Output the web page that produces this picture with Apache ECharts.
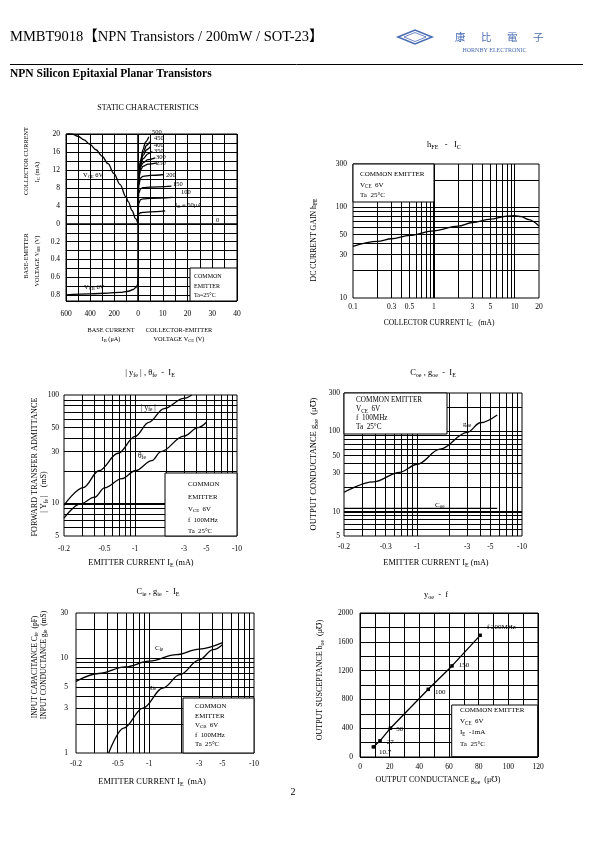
<!DOCTYPE html>
<html><head><meta charset="utf-8">
<script src="https://cdn.jsdelivr.net/npm/echarts@6/dist/echarts.min.js"></script>
<style>html,body{margin:0;padding:0;background:#fff}#c{width:595px;height:842px}</style>
</head><body><div id="c"></div>
<script>
// ================= DATA =================
// Static characteristics, upper-left: I_C (mA) vs I_B (uA) at V_CE = 6 V
const icIbIB = [0, 20, 50, 80, 100, 150, 200, 250, 300, 350, 400, 450, 500, 550, 600];
const icIbIC = [0, 1.2, 3.0, 4.9, 6.0, 8.8, 11.2, 13.4, 15.1, 16.5, 17.7, 18.7, 19.5, 20.0, 20.3];
// Static characteristics, upper-right: I_C (mA) vs V_CE (V), one curve per I_B (uA)
const famIB = [50, 100, 150, 200, 250, 300, 350, 400, 450, 500];
const famVCE = [
  [0, 0.1, 0.3, 1, 2, 5, 11],
  [0, 0.1, 0.3, 1, 2, 5, 14],
  [0, 0.1, 0.3, 1, 2, 5, 13.5],
  [0, 0.1, 0.3, 1, 2, 5, 10.5],
  [0, 0.1, 0.3, 1, 2, 4, 7.8],
  [0, 0.1, 0.3, 1, 2, 4, 7],
  [0, 0.1, 0.3, 1, 2, 4, 5.8],
  [0, 0.1, 0.3, 1, 2, 3.5, 5],
  [0, 0.1, 0.3, 1, 2, 3.5, 4.8],
  [0, 0.1, 0.3, 1, 2, 3, 4.4]
];
const famIC = [
  [0, 1.5, 2.2, 2.5, 2.6, 2.7, 2.9],
  [0, 3.0, 4.6, 5.4, 5.6, 5.7, 5.9],
  [0, 4.5, 6.8, 7.8, 8.1, 8.2, 8.4],
  [0, 6.0, 8.5, 10.2, 10.6, 10.8, 11.0],
  [0, 7.0, 9.8, 12.0, 12.8, 13.3, 13.6],
  [0, 7.5, 10.2, 12.6, 13.6, 14.3, 14.7],
  [0, 7.8, 10.5, 13.0, 14.5, 15.6, 16.1],
  [0, 8.0, 10.8, 13.5, 15.2, 16.5, 17.2],
  [0, 8.0, 11.0, 13.8, 15.8, 17.5, 18.3],
  [0, 8.0, 11.0, 14.0, 16.5, 18.2, 19.4]
];
// Static characteristics, lower-left: V_BE (V) vs I_B (uA)
const vbeIB = [0, 1, 3, 8, 20, 40, 80, 150, 250, 400, 600];
const vbeV  = [0.59, 0.64, 0.68, 0.70, 0.72, 0.74, 0.76, 0.772, 0.78, 0.79, 0.80];

// hFE - IC
const hfeIC  = [0.1, 0.2, 0.3, 0.5, 1, 2, 3, 5, 8, 10, 12, 15, 20];
const hfeVal = [37, 42, 45, 49, 55, 62, 68, 74, 80, 81, 79, 73, 62];
const hfeXTicks = [0.1, 0.3, 0.5, 1, 3, 5, 10, 20];
const hfeXText  = ['0.1', '0.3', '0.5', '1', '3', '5', '10', '20'];
const hfeYTicks = [10, 30, 50, 100, 300];

// |yfe|, theta_fe - IE
const yfeIE  = [-0.2, -0.31, -0.44, -0.68, -1, -1.36, -1.92, -3, -3.6];
const yfeVal = [9.6, 14, 20, 29, 41.5, 56, 75, 93, 100];
const thIE   = [-0.2, -0.29, -0.4, -0.5, -0.74, -1, -1.46, -1.79, -3, -4.15, -5];
const thVal  = [7.3, 9.9, 11.4, 13.9, 16.9, 20, 24.8, 30, 41.7, 50, 56];
const ieTicks   = [0.2, 0.5, 1, 3, 5, 10];
const ieText3   = ['-0.2', '-0.5', '-1', '-3', '-5', '-10'];
const yfeYTicks = [5, 10, 30, 50, 100];

// Coe, goe - IE
const goeIE  = [-0.2, -0.38, -0.68, -1, -1.65, -3, -4, -5.8];
const goeVal = [17.5, 23.5, 31, 39, 60, 97, 128, 160];
const coeIE  = [-0.2, -5.8];
const coeVal = [11, 11];
const ieText4   = ['-0.2', '-0.3', '-1', '-3', '-5', '-10'];
const goeYTicks = [5, 10, 30, 50, 100, 300];

// Cie, gie - IE
const cieIE  = [-0.2, -0.33, -0.59, -1, -1.82, -3, -5];
const cieVal = [5.7, 6.9, 8.1, 9.3, 10.9, 12.5, 14.6];
const gieIE  = [-0.41, -0.57, -0.87, -1.35, -1.96, -3, -4.07, -5];
const gieVal = [1, 1.83, 2.98, 4.85, 6.7, 9.6, 12.3, 13.9];
const ieText5   = ['-0.2', '-0.5', '-1', '-3', '-5', '-10'];
const cieYTicks = [1, 3, 5, 10, 30];

// yoe - f
const yoeF = [10.7, 27, 50, 100, 150, 200];
const yoeG = [9, 13.5, 20.5, 46, 62, 81];
const yoeB = [140, 225, 400, 940, 1265, 1690];

// ================= STYLE / LAYOUT =================
const FONT = '"Liberation Serif", "DejaVu Serif", serif';
const BLACK = '#000';
const BLUE = '#4a6cb3';
const CURVE_W = 1.3;
const yoeLblOff = [[2, 5], [3, 1], [2, 1], [3, 3], [3, -1], [3, -8]];

function richFor(size, color) {
  return { s: { fontSize: size * 0.72, fontFamily: FONT, fill: color, color: color, verticalAlign: 'bottom', padding: [size * 0.5, 0, 0, 0] } };
}
const gfx = [];
function T(x, y, text, size, o) {
  o = o || {};
  const color = o.color || BLACK;
  gfx.push({
    type: 'text', x: x, y: y, rotation: o.rot ? Math.PI / 2 : 0, z: 60, silent: true,
    style: { text: text, fontSize: size, fontFamily: o.family || FONT, fontWeight: o.bold ? 'bold' : 'normal',
      fill: color, align: o.align || 'left', verticalAlign: 'middle', rich: richFor(size, color) }
  });
}
function V(x, y, text, size) { T(x, y, text, size, { rot: true, align: 'center' }); }
function BOX(x1, y1, x2, y2) {
  gfx.push({ type: 'rect', z: 50, silent: true, shape: { x: x1, y: y1, width: x2 - x1, height: y2 - y1 },
    style: { fill: '#fff', stroke: BLACK, lineWidth: 1 } });
}
function nearestText(v, vals, texts) {
  let bi = 0, bd = 1e9;
  vals.forEach((x, i) => { const d = Math.abs(Math.log(x) - Math.log(v)); if (d < bd) { bd = d; bi = i; } });
  return texts[bi];
}
function lbl(show, fmt, margin, extra) {
  return Object.assign({ show: show, color: BLACK, fontFamily: FONT, fontSize: 7.5, margin: margin, formatter: fmt, hideOverlap: false, showMinLabel: true, showMaxLabel: true }, extra || {});
}
function linAx(gi, min, max, interval, o) {
  o = o || {};
  return { type: 'value', gridIndex: gi, min: min, max: max, interval: interval, inverse: !!o.inverse,
    axisLine: { show: false }, axisTick: { show: false },
    splitLine: { show: true, lineStyle: { color: BLACK, width: 1 } },
    axisLabel: lbl(!!o.fmt, o.fmt, o.margin || 5) };
}
function logAx(gi, min, max, vals, texts, margin) {
  return { type: 'log', logBase: 10, gridIndex: gi, min: min, max: max,
    axisLine: { show: false }, axisTick: { show: false }, splitLine: { show: false },
    axisLabel: lbl(true, v => nearestText(v, vals, texts), margin, { customValues: vals }) };
}
function logLines(min, max) {
  const out = [];
  for (let e = -2; e <= 4; e++) for (let m = 1; m < 10; m++) {
    const v = +(m * Math.pow(10, e)).toPrecision(3);
    if (v > min * 1.0001 && v < max * 0.9999) out.push(v);
  }
  return out;
}
function gridML(xs, ys, thick) {
  const data = xs.map(v => ({ xAxis: v })).concat(ys.map(v => ({ yAxis: v })));
  (thick || []).forEach(t => data.push(Object.assign({ lineStyle: { width: 2, color: BLACK, type: 'solid' } }, t)));
  return { silent: true, symbol: ['none', 'none'], label: { show: false }, emphasis: { disabled: true },
    lineStyle: { color: BLACK, width: 1, type: 'solid' }, animation: false, data: data };
}
function curve(ai, data, o) {
  return Object.assign({ type: 'line', xAxisIndex: ai, yAxisIndex: ai, data: data, symbol: 'none', showSymbol: false,
    smooth: 0.35, smoothMonotone: 'x', lineStyle: { color: BLACK, width: CURVE_W }, silent: true, z: 5, animation: false }, o || {});
}
const pairs = (xs, ys) => xs.map((v, i) => [Math.abs(v), ys[i]]);

const grids = [
  { left: 66, top: 134, width: 72, height: 90 },
  { left: 138, top: 134, width: 99, height: 90 },
  { left: 66, top: 224, width: 72, height: 77 },
  { left: 138, top: 224, width: 99, height: 77 },
  { left: 353, top: 164, width: 186, height: 134 },
  { left: 64, top: 395, width: 173, height: 141 },
  { left: 344, top: 393, width: 178, height: 143 },
  { left: 76, top: 613, width: 178, height: 140 },
  { left: 360, top: 613, width: 178, height: 144 }
].map(g => Object.assign({ show: true, borderColor: BLACK, borderWidth: 1, backgroundColor: 'transparent', containLabel: false, outerBoundsMode: 'none' }, g));

const vbeFmt = v => { const r = Math.round(v * 10); return (r > 0 && r % 2 === 0 && r <= 8) ? (r / 10).toFixed(1) : ''; };

const xAxes = [
  linAx(0, 0, 600, 100, { inverse: true }),
  linAx(1, 0, 40, 5),
  linAx(2, 0, 600, 100, { inverse: true, fmt: v => (v % 200 === 0 ? String(v) : ''), margin: 9 }),
  linAx(3, 0, 40, 5, { fmt: v => (v > 0 && v % 10 === 0 ? String(v) : ''), margin: 9 }),
  logAx(4, 0.1, 20, hfeXTicks, hfeXText, 5.5),
  logAx(5, 0.2, 10, ieTicks, ieText3, 9),
  logAx(6, 0.2, 10, ieTicks, ieText4, 7.5),
  logAx(7, 0.2, 10, ieTicks, ieText5, 7.5),
  linAx(8, 0, 120, 10, { fmt: v => (v % 20 === 0 ? String(v) : ''), margin: 6 })
];
const yAxes = [
  linAx(0, 0, 20, 2, { fmt: v => (v % 4 === 0 ? String(v) : ''), margin: 6 }),
  linAx(1, 0, 20, 2),
  linAx(2, 0, 0.87, 0.1, { inverse: true, fmt: vbeFmt, margin: 6 }),
  linAx(3, 0, 0.87, 0.1, { inverse: true }),
  logAx(4, 10, 300, hfeYTicks, hfeYTicks.map(String), 6),
  logAx(5, 5, 100, yfeYTicks, yfeYTicks.map(String), 5),
  logAx(6, 5, 300, goeYTicks, goeYTicks.map(String), 4),
  logAx(7, 1, 30, cieYTicks, cieYTicks.map(String), 8),
  linAx(8, 0, 2000, 200, { fmt: v => (v % 400 === 0 ? String(v) : ''), margin: 7 })
];

const series = [];
// Chart 1
series.push(curve(0, icIbIB.map((v, i) => [v, icIbIC[i]])));
famIB.forEach((ib, k) => series.push(curve(1, famVCE[k].map((v, i) => [v, famIC[k][i]]), { smooth: 0.3, name: 'IB' + ib })));
series.push(curve(2, vbeIB.map((v, i) => [v, vbeV[i]])));
// Chart 2
series.push(curve(4, pairs(hfeIC, hfeVal), { markLine: gridML(logLines(0.1, 20), logLines(10, 300), [{ xAxis: 1 }]) }));
// Chart 3
series.push(curve(5, pairs(yfeIE, yfeVal), { markLine: gridML(logLines(0.2, 10), logLines(5, 100), [{ yAxis: 10 }]) }));
series.push(curve(5, pairs(thIE, thVal)));
// Chart 4
series.push(curve(6, pairs(goeIE, goeVal), { markLine: gridML(logLines(0.2, 10), logLines(5, 300), [{ yAxis: 10 }]) }));
series.push(curve(6, pairs(coeIE, coeVal), { smooth: false }));
// Chart 5
series.push(curve(7, pairs(cieIE, cieVal), { markLine: gridML(logLines(0.2, 10), logLines(1, 30)) }));
series.push(curve(7, pairs(gieIE, gieVal)));
// Chart 6
series.push({
  type: 'line', xAxisIndex: 8, yAxisIndex: 8, smooth: false, symbol: 'rect', symbolSize: 3.5, showSymbol: true,
  itemStyle: { color: BLACK }, lineStyle: { color: BLACK, width: CURVE_W }, silent: true, z: 5, animation: false,
  data: yoeG.map((g, i) => ({ value: [g, yoeB[i]], label: { offset: yoeLblOff[i] } })),
  label: { show: true, position: 'right', distance: 2, color: BLACK, fontFamily: FONT, fontSize: 7,
    formatter: p => (p.dataIndex === yoeF.length - 1 ? 'f ' + yoeF[p.dataIndex] + 'MHz' : String(yoeF[p.dataIndex])) }
});

// ================= TEXT / DECOR =================
// Header
T(10, 37, 'MMBT9018【NPN Transistors / 200mW / SOT-23】', 14.5, { family: '"Liberation Serif","Noto Sans CJK SC",serif' });
gfx.push({ type: 'polygon', z: 60, silent: true, shape: { points: [[398, 37], [415, 30], [432, 37], [415, 44]] }, style: { fill: 'none', stroke: BLUE, lineWidth: 1.6 } });
gfx.push({ type: 'polygon', z: 60, silent: true, shape: { points: [[404, 37], [415, 32.5], [426, 37], [415, 41.5]] }, style: { fill: 'none', stroke: BLUE, lineWidth: 0.8 } });
['康', '比', '電', '子'].forEach((ch, i) => T(455 + i * 26, 37, ch, 10.5, { color: BLUE, family: '"Noto Sans CJK TC"' }));
T(494.5, 50, 'HORNBY ELECTRONIC', 6, { align: 'center', color: BLUE });
gfx.push({ type: 'line', z: 60, silent: true, shape: { x1: 10, y1: 64.5, x2: 583, y2: 64.5 }, style: { stroke: BLACK, lineWidth: 1 } });
T(10, 74, 'NPN Silicon Epitaxial Planar Transistors', 11.5, { bold: true });

// Chart 1
T(148, 108, 'STATIC CHARACTERISTICS', 8, { align: 'center' });
V(26, 161, 'COLLECTOR CURRENT', 6.3);
V(37, 172, 'I{s|C} (mA)', 6.3);
V(26, 256, 'BASE-EMITTER', 6.3);
V(37, 261, 'VOLTAGE V{s|BE} (V)', 6.3);
T(111, 330, 'BASE CURRENT', 6.3, { align: 'center' });
T(111, 339, 'I{s|B} (μA)', 6.3, { align: 'center' });
T(179, 330, 'COLLECTOR-EMITTER', 6.3, { align: 'center' });
T(179, 339, 'VOLTAGE V{s|CE} (V)', 6.3, { align: 'center' });
T(83, 175, 'V{s|CE} 6V', 6.5);
T(84, 287, 'V{s|CB} 6V', 6.5);
[['500', 152, 132], ['450', 154, 138.5], ['400', 154, 145], ['350', 154, 151.5], ['300', 156, 157.5], ['250', 156, 163.5],
 ['200', 166, 175], ['150', 173, 184], ['100', 181, 192.5], ['I{s|B} = 50μA', 175, 205], ['0', 216, 220]].forEach(a => T(a[1], a[2], a[0], 6.5));
BOX(190, 268, 237, 301);
T(194, 276.5, 'COMMON', 6); T(194, 286, 'EMITTER', 6); T(194, 295.5, 'Ta=25°C', 6);

// Chart 2
T(444, 145, 'h{s|FE}   -   I{s|C}', 8.5, { align: 'center' });
BOX(353, 164, 434, 202);
T(360, 174, 'COMMON EMITTER', 7); T(360, 185, 'V{s|CE}  6V', 7); T(360, 195.5, 'Ta  25°C', 7);
V(314, 240, 'DC CURRENT GAIN h{s|FE}', 7.8);
T(439, 323, 'COLLECTOR CURRENT I{s|C}   (mA)', 7.5, { align: 'center' });

// Chart 3
T(150, 373, '| y{s|fe} | , θ{s|fe}  -  I{s|E}', 8.5, { align: 'center' });
V(35, 467, 'FORWARD TRANSFER ADMITTANCE', 8.2);
V(44, 492, '| Y{s|fe} |    (mS)', 8);
T(141, 563, 'EMITTER CURRENT I{s|E} (mA)', 8.3, { align: 'center' });
BOX(165, 473, 237, 536);
T(188, 484, 'COMMON', 6.8); T(188, 497.5, 'EMITTER', 6.8); T(188, 509, 'V{s|CE}  6V', 6.8); T(188, 520, 'f  100MHz', 6.8); T(188, 531.5, 'Ta  25°C', 6.8);
T(141, 408, '| y{s|fe} |', 7.5);
T(138, 456, 'θ{s|fe}', 7.5);

// Chart 4
T(433, 373, 'C{s|oe} , g{s|oe}  -  I{s|E}', 8.5, { align: 'center' });
V(314, 464, 'OUTPUT CONDUCTANCE g{s|oe}  (μ℧)', 8.5);
T(436, 563, 'EMITTER CURRENT I{s|E} (mA)', 8.3, { align: 'center' });
BOX(344, 393, 447, 434);
T(356, 400, 'COMMON EMITTER', 7.2); T(356, 409.5, 'V{s|CE}  6V', 7.2); T(356, 418.5, 'f  100MHz', 7.2); T(356, 427.5, 'Ta  25°C', 7.2);
T(463, 424, 'g{s|oe}', 7);
T(435, 505, 'C{s|oe}', 7);

// Chart 5
T(158, 592, 'C{s|ie} , g{s|ie}  -  I{s|E}', 8.5, { align: 'center' });
V(35, 667, 'INPUT CAPACITANCE C{s|ie}  (pF)', 7.5);
V(44, 665, 'INPUT CONDUCTANCE g{s|ie}  (mS)', 7.5);
T(152, 782, 'EMITTER CURRENT I{s|E}  (mA)', 8.3, { align: 'center' });
BOX(183, 698, 254, 753);
T(195, 706.5, 'COMMON', 6.8); T(195, 716.5, 'EMITTER', 6.8); T(195, 725.5, 'V{s|CB}  6V', 6.8); T(195, 735, 'f  100MHz', 6.8); T(195, 744, 'Ta  25°C', 6.8);
T(155, 648, 'C{s|ie}', 7);
T(149, 687, 'g{s|ie}', 7);

// Chart 6
T(436, 595, 'y{s|oe}  -  f', 8.5, { align: 'center' });
V(320, 680, 'OUTPUT SUSCEPTANCE b{s|oe}  (μ℧)', 8);
T(438, 780, 'OUTPUT CONDUCTANCE g{s|oe}  (μ℧)', 8, { align: 'center' });
BOX(451.7, 705, 537.7, 756.7);
T(460, 710, 'COMMON EMITTER', 7); T(460, 721.5, 'V{s|CE}  6V', 7); T(460, 732.5, 'I{s|E}  -1mA', 7); T(460, 744, 'Ta  25°C', 7);

// Page number
T(293, 792, '2', 10, { align: 'center' });

const chart = echarts.init(document.getElementById('c'), null, { renderer: 'canvas', width: 595, height: 842 });
chart.setOption({
  animation: false,
  backgroundColor: '#fff',
  textStyle: { fontFamily: FONT },
  grid: grids,
  xAxis: xAxes,
  yAxis: yAxes,
  series: series,
  graphic: { elements: gfx }
});
</script></body></html>
